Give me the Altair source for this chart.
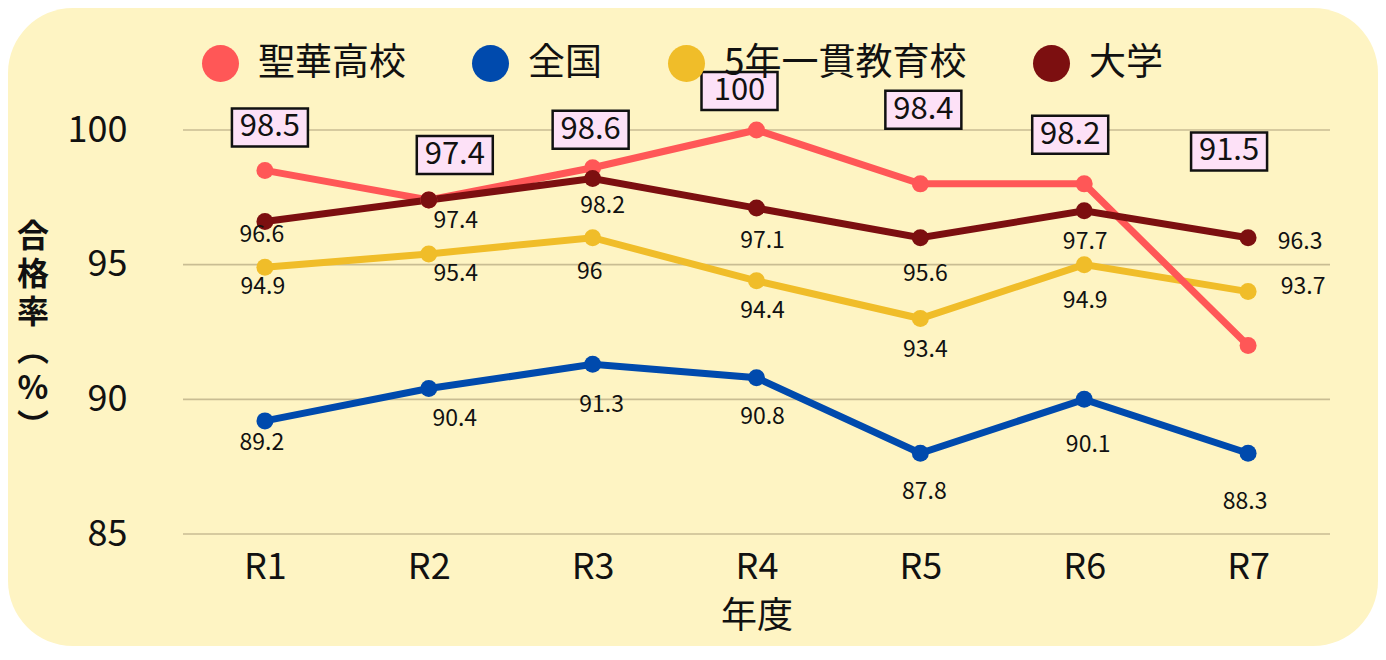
import json
import altair as alt
import pandas as pd

# ---------------- data ----------------
years = ["R1", "R2", "R3", "R4", "R5", "R6", "R7"]
series_names = ["聖華高校", "全国", "5年一貫教育校", "大学"]

seika = [98.5, 97.4, 98.6, 100.0, 98.0, 98.0, 92.0]
zenkoku = [89.2, 90.4, 91.3, 90.8, 88.0, 90.0, 88.0]
gonen = [94.9, 95.4, 96.0, 94.4, 93.0, 95.0, 94.0]
daigaku = [96.6, 97.4, 98.2, 97.1, 96.0, 97.0, 96.0]

seika_labels = ["98.5", "97.4", "98.6", "100", "98.4", "98.2", "91.5"]
zenkoku_labels = ["89.2", "90.4", "91.3", "90.8", "87.8", "90.1", "88.3"]
gonen_labels = ["94.9", "95.4", "96", "94.4", "93.4", "94.9", "93.7"]
daigaku_labels = ["96.6", "97.4", "98.2", "97.1", "95.6", "97.7", "96.3"]

y_ticks = [85, 90, 95, 100]
y_title = ["合", "格", "率", "︵", "%", "︶"]
x_title = "年度"

# ---------------- layout / style ----------------
VIEW_W, VIEW_H = 1370, 638          # whole rounded panel (the view)
PL, PT, PW, PH = 175, 122, 1147, 404  # plot region inside the panel
Y_MIN, Y_MAX = 85, 100
STEP = PW / len(years)
PPU = PH / (Y_MAX - Y_MIN)

x_lo = -0.5 - PL / STEP
x_hi = len(years) - 0.5 + (VIEW_W - PL - PW) / STEP
y_hi = Y_MAX + PT / PPU
y_lo = Y_MIN - (VIEW_H - PT - PH) / PPU

colors = ["#ff5757", "#004aad", "#f0bd29", "#7c0f10"]
BG = "#fef4c3"
GRID = "#c9bd93"
BOX = "#fde1f7"
FONT = "Noto Sans CJK JP"
NUMFONT = "Noto Sans CJK JP"

# label offsets from their point, in pixels (dx, dy)
seika_off = [(5, -43), (26, -45), (-2, -38), (-17, -39), (3, -74), (-14, -49), (-19, -194)]
zenkoku_off = [(-3, 22), (26, 30), (9, 41), (6, 39), (4, 39), (4, 46), (-3, 49)]
gonen_off = [(-2, 20), (27, 20), (-3, 34), (6, 30), (5, 31), (1, 36), (55, -5)]
daigaku_off = [(-3, 13), (27, 21), (10, 28), (6, 33), (5, 36), (1, 31), (52, 4)]

draw_order = [1, 2, 0, 3]
all_vals = [seika, zenkoku, gonen, daigaku]
all_labels = [seika_labels, zenkoku_labels, gonen_labels, daigaku_labels]
all_off = [seika_off, zenkoku_off, gonen_off, daigaku_off]

rows, lab_rows = [], []
for k in draw_order:
    for i, y in enumerate(years):
        v = all_vals[k][i]
        rows.append({"i": i, "year": y, "series": series_names[k], "value": v,
                     "col": colors[k]})
        dx, dy = all_off[k][i]
        lab_rows.append({"series": series_names[k], "lx": i + dx / STEP,
                         "ly": v - dy / PPU, "text": all_labels[k][i], "boxed": k == 0})
df = pd.DataFrame(rows)
labels = pd.DataFrame(lab_rows)
grid_df = pd.DataFrame({"g": y_ticks, "x0": -0.5, "x1": len(years) - 0.5})
dummy = pd.DataFrame({"a": [0]})

xscale = alt.Scale(domain=[x_lo, x_hi], nice=False, zero=False)
yscale = alt.Scale(domain=[y_lo, y_hi], nice=False, zero=False)
label_expr = json.dumps(years) + "[datum.value]"
xaxis = alt.Axis(values=list(range(len(years))), labelExpr=label_expr, grid=False, ticks=False,
                 domain=False, labelFont=FONT, labelFontSize=36, labelColor="#111",
                 labelPadding=16, title=x_title, titleFont=FONT, titleFontSize=36,
                 titleFontWeight="normal", titleColor="#111", titlePadding=14,
                 titleX=PL + PW / 2, offset=-(VIEW_H - PT - PH), zindex=1)
yaxis = alt.Axis(values=y_ticks, grid=False, ticks=False, domain=False, labelFont=FONT,
                 labelFontSize=36, labelColor="#111", labelPadding=56, title=None,
                 offset=-PL, zindex=1)

X = lambda f: alt.X(f, scale=xscale, axis=xaxis)
Y = lambda f: alt.Y(f, scale=yscale, axis=yaxis)

grid = alt.Chart(grid_df).mark_rule(color=GRID, strokeWidth=1.6).encode(
    y=Y("g:Q"), x=X("x0:Q"), x2="x1:Q")

ytitle = alt.Chart(dummy).mark_text(font=FONT, fontSize=32, fontWeight="bold", lineHeight=38,
                                    align="center", baseline="middle", color="#111").encode(
    x=alt.value(25), y=alt.value(229), text=alt.value(y_title))

lines = alt.Chart(df).mark_line(strokeWidth=7).encode(
    x=X("i:Q"), y=Y("value:Q"),
    stroke=alt.Stroke("col:N", scale=None),
    detail="series:N", order="i:Q")

pts = alt.Chart(df).mark_point(filled=True, size=289, opacity=1).encode(
    x=X("i:Q"), y=Y("value:Q"),
    color=alt.Color("series:N", scale=alt.Scale(domain=series_names, range=colors),
                    legend=alt.Legend(title=None, orient="none", legendX=194, legendY=37,
                                      direction="horizontal", symbolType="circle",
                                      symbolSize=1369, symbolStrokeWidth=0, labelFont=FONT,
                                      labelFontSize=37, labelColor="#111", labelOffset=19,
                                      labelLimit=600, columnPadding=66, padding=0)))

plain = alt.Chart(labels).transform_filter("!datum.boxed").mark_text(
    font=NUMFONT, fontSize=23, color="#111", align="center", baseline="middle").encode(
    x=X("lx:Q"), y=Y("ly:Q"), text="text:N")

boxes = alt.Chart(labels).transform_filter("datum.boxed").mark_rect(
    width=76, height=38, fill=BOX, stroke="#111", strokeWidth=2.5).encode(
    x=X("lx:Q"), y=Y("ly:Q"))

boxtext = alt.Chart(labels).transform_filter("datum.boxed").mark_text(
    font=NUMFONT, fontSize=31, color="#111", align="center", baseline="middle").encode(
    x=X("lx:Q"), y=Y("ly:Q"), text="text:N")

chart = alt.layer(grid, ytitle, lines, pts, plain, boxes, boxtext).properties(
    width=VIEW_W, height=VIEW_H, autosize="none", padding=0, background="white",
).configure_view(stroke=None, fill=BG, cornerRadius=65)

chart.save("out.html", embed_options={"renderer": "svg", "actions": False})
